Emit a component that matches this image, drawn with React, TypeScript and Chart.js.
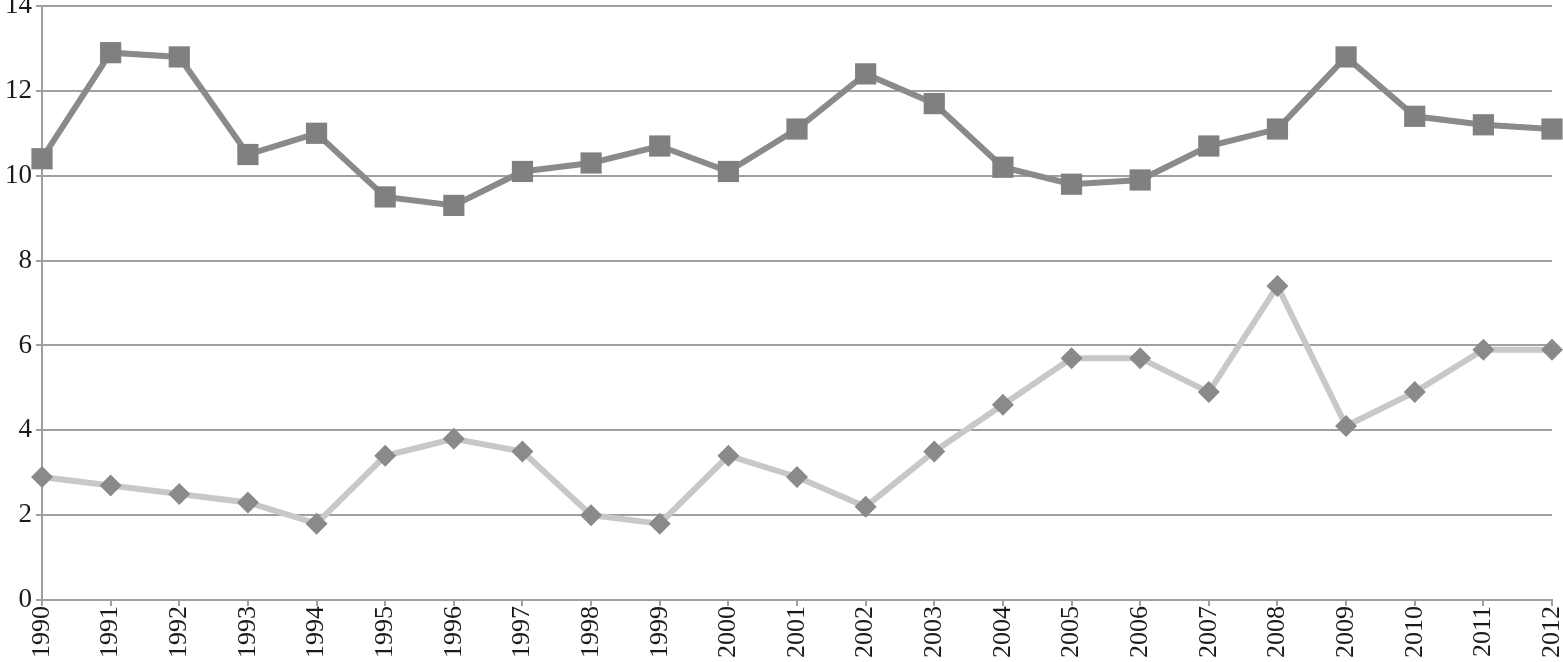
import React, { useEffect, useRef } from "react";
import { Chart, registerables } from "chart.js";

Chart.register(...registerables);

const years = ["1990","1991","1992","1993","1994","1995","1996","1997","1998","1999","2000","2001","2002","2003","2004","2005","2006","2007","2008","2009","2010","2011","2012"];
const squareSeries = [10.4, 12.9, 12.8, 10.5, 11.0, 9.5, 9.3, 10.1, 10.3, 10.7, 10.1, 11.1, 12.4, 11.7, 10.2, 9.8, 9.9, 10.7, 11.1, 12.8, 11.4, 11.2, 11.1];
const diamondSeries = [2.9, 2.7, 2.5, 2.3, 1.8, 3.4, 3.8, 3.5, 2.0, 1.8, 3.4, 2.9, 2.2, 3.5, 4.6, 5.7, 5.7, 4.9, 7.4, 4.1, 4.9, 5.9, 5.9];
const yMin = 0;
const yMax = 14;
const yStep = 2;

export default function App() {
  const ref = useRef<HTMLCanvasElement | null>(null);
  useEffect(() => {
    document.body.style.margin = "0";
    const ctx = ref.current!;
    const chart = new Chart(ctx, {
      type: "line",
      data: {
        labels: years,
        datasets: [
          {
            data: squareSeries,
            borderColor: "#8a8a8c",
            backgroundColor: "#808082",
            borderWidth: 6,
            pointStyle: "rect",
            pointRadius: 15,
            pointBorderWidth: 0,
            pointBackgroundColor: "#808082",
            tension: 0,
            clip: false,
          },
          {
            data: diamondSeries,
            borderColor: "#c8c8c8",
            backgroundColor: "#8a8a8c",
            borderWidth: 6,
            pointStyle: "rectRot",
            pointRadius: 11,
            pointBorderWidth: 0,
            pointBackgroundColor: "#8a8a8c",
            tension: 0,
            clip: false,
          },
        ],
      },
      options: {
        animation: false,
        responsive: false,
        maintainAspectRatio: false,
        layout: { autoPadding: false, padding: { top: 6, right: 11, left: 0, bottom: 0 } },
        plugins: { legend: { display: false }, tooltip: { enabled: false } },
        scales: {
          x: {
            offset: false,
            grid: { drawOnChartArea: false, drawTicks: true, tickLength: 6, color: "#a0a0a0", lineWidth: 2 },
            border: { color: "#a0a0a0", width: 2 },
            ticks: {
              minRotation: 90,
              maxRotation: 90,
              autoSkip: false,
              padding: 0,
              color: "#1a1a1a",
              font: { family: "'Liberation Serif', 'DejaVu Serif', serif", size: 26 },
            },
            afterFit: (s: any) => { s.height = 62; s.paddingLeft = 0; s.paddingRight = 0; },
          },
          y: {
            min: yMin,
            max: yMax,
            ticks: {
              stepSize: yStep,
              padding: 4,
              color: "#1a1a1a",
              font: { family: "'Liberation Serif', 'DejaVu Serif', serif", size: 27 },
            },
            grid: { color: "#a0a0a0", lineWidth: 2, drawTicks: true, tickLength: 6 },
            border: { color: "#a0a0a0", width: 2 },
            afterFit: (s: any) => { s.width = 42; s.paddingTop = 0; s.paddingBottom = 0; },
          },
        },
      },
    });
    return () => chart.destroy();
  }, []);
  return <canvas ref={ref} width={1563} height={662} style={{ display: "block" }} />;
}
